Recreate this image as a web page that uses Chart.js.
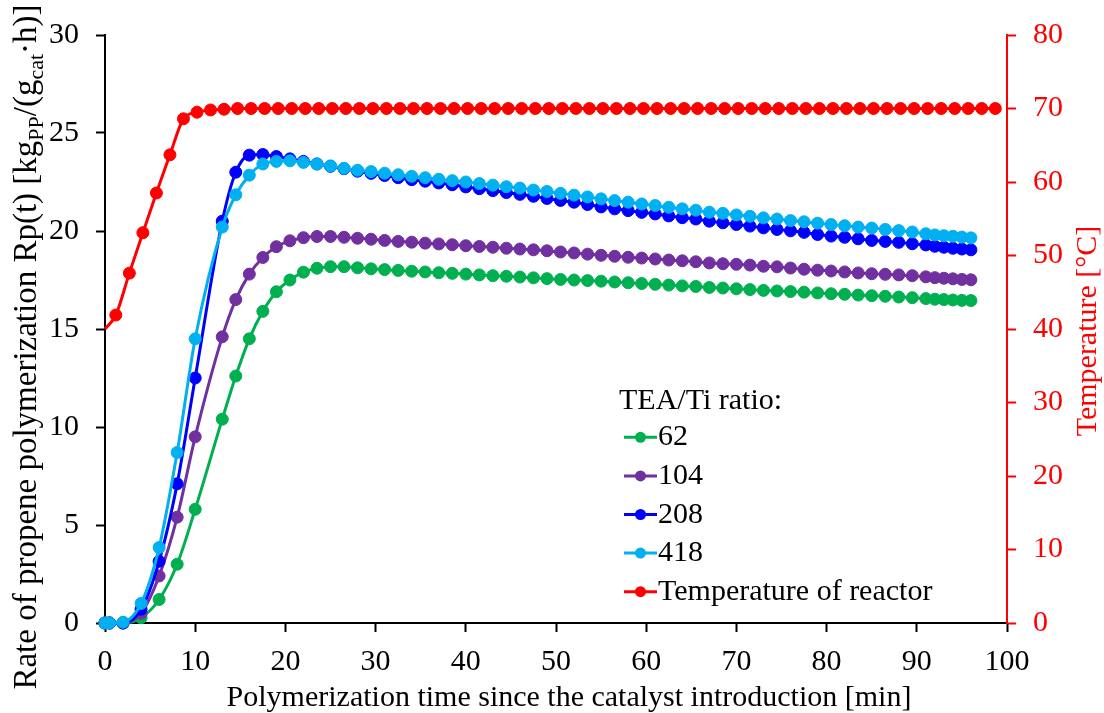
<!DOCTYPE html>
<html>
<head>
<meta charset="utf-8">
<script src="https://cdn.jsdelivr.net/npm/chart.js@4/dist/chart.umd.min.js"></script>
<style>
  html, body { margin: 0; padding: 0; background: #fff; }
  #wrap { width: 1104px; height: 713px; }
</style>
</head>
<body>
<div id="wrap"><canvas id="chart" width="1104" height="713"></canvas></div>
<script>
// polymerization rate samples [min]
const timeRp = [0, 0.5, 2, 4, 6, 8, 10, 13, 14.5, 16, 17.5, 19, 20.5, 22, 23.5, 25, 26.5, 28, 29.5, 31, 32.5, 34, 35.5, 37, 38.5, 40, 41.5, 43, 44.5, 46, 47.5, 49, 50.5, 52, 53.5, 55, 56.5, 58, 59.5, 61, 62.5, 64, 65.5, 67, 68.5, 70, 71.5, 73, 74.5, 76, 77.5, 79, 80.5, 82, 83.5, 85, 86.5, 88, 89.5, 91, 92, 93, 94, 95, 96]

const rp62 = [0, 0, 0, 0.27, 1.2, 3.0, 5.8, 10.4, 12.6, 14.5, 15.9, 16.9, 17.5, 17.9, 18.1, 18.18, 18.18, 18.12, 18.07, 18.03, 17.99, 17.95, 17.91, 17.87, 17.84, 17.8, 17.76, 17.72, 17.69, 17.65, 17.61, 17.57, 17.53, 17.5, 17.47, 17.44, 17.4, 17.36, 17.32, 17.28, 17.24, 17.2, 17.17, 17.12, 17.09, 17.05, 17.01, 16.97, 16.94, 16.91, 16.88, 16.84, 16.8, 16.77, 16.73, 16.7, 16.67, 16.63, 16.6, 16.55, 16.52, 16.5, 16.48, 16.46, 16.45]

const rp104 = [0, 0, 0, 0.5, 2.4, 5.4, 9.5, 14.6, 16.5, 17.8, 18.65, 19.2, 19.5, 19.66, 19.72, 19.72, 19.68, 19.63, 19.58, 19.52, 19.47, 19.43, 19.38, 19.34, 19.3, 19.25, 19.21, 19.17, 19.12, 19.08, 19.04, 18.99, 18.93, 18.88, 18.82, 18.76, 18.71, 18.66, 18.62, 18.57, 18.52, 18.48, 18.43, 18.37, 18.33, 18.3, 18.26, 18.2, 18.17, 18.11, 18.05, 18.0, 17.96, 17.91, 17.86, 17.82, 17.79, 17.76, 17.72, 17.66, 17.62, 17.59, 17.56, 17.53, 17.51]

const rp208 = [0, 0, 0, 0.7, 3.15, 7.1, 12.5, 20.5, 23.0, 23.87, 23.9, 23.8, 23.68, 23.55, 23.42, 23.3, 23.18, 23.05, 22.94, 22.83, 22.72, 22.62, 22.54, 22.45, 22.36, 22.25, 22.16, 22.06, 21.96, 21.87, 21.77, 21.66, 21.56, 21.47, 21.35, 21.23, 21.13, 21.04, 20.95, 20.87, 20.77, 20.68, 20.61, 20.5, 20.42, 20.33, 20.25, 20.16, 20.08, 20.01, 19.93, 19.82, 19.74, 19.68, 19.6, 19.52, 19.47, 19.42, 19.35, 19.29, 19.22, 19.17, 19.12, 19.08, 19.04]

const rp418 = [0, 0, 0.04, 1.0, 3.85, 8.7, 14.5, 20.2, 21.85, 22.85, 23.42, 23.55, 23.58, 23.5, 23.42, 23.32, 23.2, 23.1, 23.03, 22.95, 22.87, 22.79, 22.72, 22.64, 22.57, 22.5, 22.42, 22.34, 22.26, 22.19, 22.09, 22.02, 21.92, 21.83, 21.74, 21.64, 21.55, 21.47, 21.38, 21.3, 21.21, 21.13, 21.06, 20.96, 20.9, 20.82, 20.75, 20.67, 20.61, 20.53, 20.47, 20.4, 20.33, 20.27, 20.2, 20.15, 20.08, 20.02, 19.95, 19.86, 19.8, 19.76, 19.73, 19.69, 19.65]

// reactor temperature samples [min], [°C]
const timeTemp = [0, 1.2, 2.7, 4.2, 5.7, 7.2, 8.7, 10.2, 11.7, 13.2, 14.7, 16.2, 17.7, 19.2, 20.7, 22.2, 23.7, 25.2, 26.7, 28.2, 29.7, 31.2, 32.7, 34.2, 35.7, 37.2, 38.7, 40.2, 41.7, 43.2, 44.7, 46.2, 47.7, 49.2, 50.7, 52.2, 53.7, 55.2, 56.7, 58.2, 59.7, 61.2, 62.7, 64.2, 65.7, 67.2, 68.7, 70.2, 71.7, 73.2, 74.7, 76.2, 77.7, 79.2, 80.7, 82.2, 83.7, 85.2, 86.7, 88.2, 89.7, 91.2, 92.7, 94.2, 95.7, 97.2, 98.7]

const tempReactor = [40, 41.9, 47.6, 53.1, 58.5, 63.7, 68.6, 69.5, 69.8, 69.9, 70, 70, 70, 70, 70, 70, 70, 70, 70, 70, 70, 70, 70, 70, 70, 70, 70, 70, 70, 70, 70, 70, 70, 70, 70, 70, 70, 70, 70, 70, 70, 70, 70, 70, 70, 70, 70, 70, 70, 70, 70, 70, 70, 70, 70, 70, 70, 70, 70, 70, 70, 70, 70, 70, 70, 70, 70]

const seriesLabels = ["62", "104", "208", "418", "Temperature of reactor"]
const seriesColors = ["#00B050", "#7030A0", "#0000FF", "#00B0F0", "#FF0000"]

const FONT = "'Liberation Serif', 'Times New Roman', serif"
Chart.defaults.font.family = FONT
Chart.defaults.font.size = 30
Chart.defaults.color = "#000"

function series(i, xs, ys, axis) {
  return {
    label: seriesLabels[i],
    data: xs.map((x, k) => ({ x: x, y: ys[k] })),
    yAxisID: axis,
    borderColor: seriesColors[i],
    backgroundColor: seriesColors[i],
    pointBackgroundColor: seriesColors[i],
    pointBorderColor: seriesColors[i],
    borderWidth: 3,
    pointRadius: 6,
    pointBorderWidth: 1,
    cubicInterpolationMode: "monotone",
    clip: false,
    order: 5 - i
  }
}

const temp = series(4, timeTemp, tempReactor, "y2")
// the trace starts at the axis with no marker
temp.pointRadius = ctx => ctx.dataIndex === 0 ? 0 : 6
temp.pointBorderWidth = ctx => ctx.dataIndex === 0 ? 0 : 1

// titles + inside legend
const decorations = {
  id: "decorations",
  afterDraw(chart) {
    const ctx = chart.ctx
    const area = chart.chartArea
    ctx.save()
    ctx.fillStyle = "#000"
    ctx.font = "30px " + FONT
    ctx.textBaseline = "alphabetic"

    // x title
    ctx.textAlign = "center"
    ctx.fillText("Polymerization time since the catalyst introduction [min]", 569, 706)

    // left title with subscripts, reading bottom to top
    const parts = [
      ["Rate of propene polymerization Rp(t) [kg", false],
      ["PP", true],
      ["/(g", false],
      ["cat", true],
      ["\u00B7h)]", false]
    ]
    const fontOf = sub => (sub ? "22px " : "33px ") + FONT
    let total = 0
    parts.forEach(p => { ctx.font = fontOf(p[1]); total += ctx.measureText(p[0]).width })
    ctx.save()
    ctx.translate(36, 347)
    ctx.rotate(-Math.PI / 2)
    ctx.textAlign = "left"
    let x = -total / 2
    parts.forEach(p => {
      ctx.font = fontOf(p[1])
      ctx.fillText(p[0], x, p[1] ? 7 : 0)
      x += ctx.measureText(p[0]).width
    })
    ctx.restore()

    // right title
    ctx.save()
    ctx.fillStyle = "#FF0000"
    ctx.font = "30px " + FONT
    ctx.translate(1096, 331)
    ctx.rotate(-Math.PI / 2)
    ctx.textAlign = "center"
    ctx.fillText("Temperature [\u00B0C]", 0, 0)
    ctx.restore()

    // legend
    const lx = area.left + 514
    ctx.font = "30px " + FONT
    ctx.textAlign = "left"
    ctx.fillText("TEA/Ti ratio:", lx, 409)
    seriesLabels.forEach((label, i) => {
      const y = 437.3 + i * 38.6
      ctx.strokeStyle = seriesColors[i]
      ctx.fillStyle = seriesColors[i]
      ctx.lineWidth = 3
      ctx.beginPath()
      ctx.moveTo(lx + 5, y)
      ctx.lineTo(lx + 38, y)
      ctx.stroke()
      ctx.beginPath()
      ctx.arc(lx + 21.5, y, 5.5, 0, Math.PI * 2)
      ctx.fill()
      ctx.fillStyle = "#000"
      ctx.fillText(label, lx + 39, y + 8)
    })
    ctx.restore()
  }
}

new Chart(document.getElementById("chart"), {
  type: "line",
  data: {
    datasets: [
      series(0, timeRp, rp62, "y"),
      series(1, timeRp, rp104, "y"),
      series(2, timeRp, rp208, "y"),
      series(3, timeRp, rp418, "y"),
      temp
    ]
  },
  options: {
    responsive: false,
    animation: false,
    layout: { padding: { top: 34, left: 0, right: 0, bottom: 0 } },
    plugins: {
      legend: { display: false },
      tooltip: { enabled: false }
    },
    scales: {
      x: {
        type: "linear",
        min: 0,
        max: 100,
        ticks: { stepSize: 10, padding: 12, color: "#000" },
        grid: { drawOnChartArea: false, tickLength: 9, tickWidth: 2, tickColor: "#000" },
        border: { color: "#000", width: 2 },
        afterFit: s => { s.height = 90 }
      },
      y: {
        position: "left",
        min: 0,
        max: 30,
        ticks: { stepSize: 5, padding: 17, color: "#000" },
        grid: { drawOnChartArea: false, tickLength: 9, tickWidth: 2, tickColor: "#000" },
        border: { color: "#000", width: 2 },
        afterFit: s => { s.width = 105 }
      },
      y2: {
        position: "right",
        min: 0,
        max: 80,
        ticks: { stepSize: 10, padding: 17, color: "#FF0000" },
        grid: { drawOnChartArea: false, tickLength: 9, tickWidth: 2, tickColor: "#FF0000" },
        border: { color: "#FF0000", width: 2 },
        afterFit: s => { s.width = 97 }
      }
    }
  },
  plugins: [decorations]
})
</script>
</body>
</html>
